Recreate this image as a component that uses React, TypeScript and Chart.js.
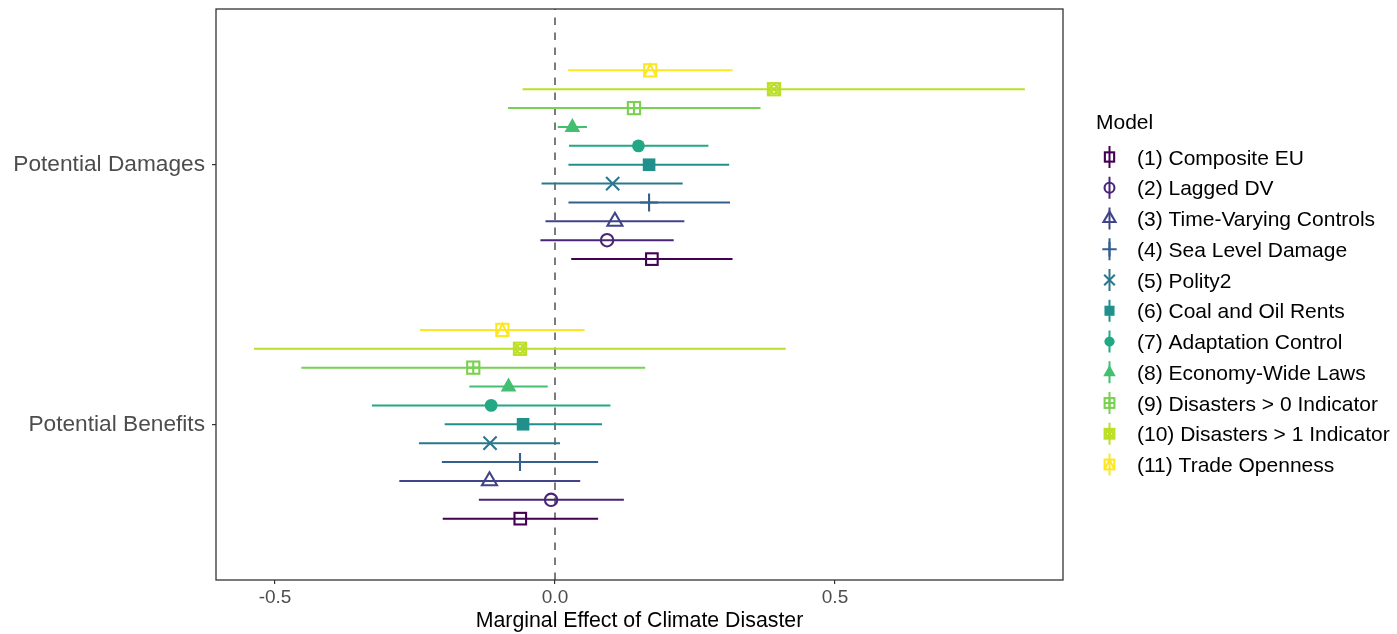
import React, { useEffect, useRef } from "react";
import { Chart, registerables } from "chart.js";

Chart.register(...registerables);

// ---------------- DATA ----------------
const categories = ["Potential Benefits", "Potential Damages"]; // y = 1, y = 2
const models = [
  "(1) Composite EU",
  "(2) Lagged DV",
  "(3) Time-Varying Controls",
  "(4) Sea Level Damage",
  "(5) Polity2",
  "(6) Coal and Oil Rents",
  "(7) Adaptation Control",
  "(8) Economy-Wide Laws",
  "(9) Disasters > 0 Indicator",
  "(10) Disasters > 1 Indicator",
  "(11) Trade Openness",
];
const colors = [
  "#440154", "#482576", "#414487", "#35608D", "#2A788E", "#21908C",
  "#22A884", "#43BF71", "#7AD151", "#BBDF27", "#FDE725",
];
const shapes = [
  "sqOpen", "circOpen", "triOpen", "plus", "cross", "sqFill",
  "circFill", "triFill", "sqPlus", "sqCross", "sqTri",
];

// Potential Damages
const dmgEst = [0.173, 0.093, 0.107, 0.168, 0.103, 0.168, 0.149, 0.031, 0.141, 0.391, 0.170];
const dmgLo = [0.029, -0.026, -0.017, 0.024, -0.024, 0.024, 0.025, 0.005, -0.084, -0.058, 0.023];
const dmgHi = [0.317, 0.212, 0.231, 0.3125, 0.228, 0.311, 0.274, 0.057, 0.367, 0.839, 0.317];

// Potential Benefits
const benEst = [-0.062, -0.007, -0.117, -0.0625, -0.116, -0.057, -0.114, -0.083, -0.146, -0.0625, -0.094];
const benLo = [-0.2005, -0.136, -0.278, -0.202, -0.243, -0.197, -0.327, -0.153, -0.453, -0.5375, -0.241];
const benHi = [0.077, 0.123, 0.045, 0.077, 0.009, 0.084, 0.099, -0.013, 0.161, 0.412, 0.053];

const xTicks = [-0.5, 0, 0.5];
const xTickLabels = ["-0.5", "0.0", "0.5"];
const yTicks = [1, 2];
const xTitle = "Marginal Effect of Climate Disaster";
const legendTitle = "Model";

// ---------------- LAYOUT / STYLE ----------------
const W = 1397;
const H = 634;
const FONT = '"Liberation Sans", Arial, Helvetica, sans-serif';
const DODGE = 0.8;
const X_MIN = (216 - 555) / 560;
const X_MAX = (1063 - 555) / 560;
const Y_MIN = 0.4;
const Y_MAX = 2.6;

function dodge(i: number) {
  const n = models.length;
  return (i - (n - 1) / 2) * (DODGE / n);
}

function drawShape(ctx: CanvasRenderingContext2D, shape: string, x: number, y: number, s: number, color: string) {
  ctx.save();
  ctx.strokeStyle = color;
  ctx.fillStyle = color;
  ctx.lineWidth = 2.1;
  ctx.lineJoin = "miter";
  ctx.beginPath();
  const sq = (h: number) => ctx.strokeRect(x - h * s, y - h * s, 2 * h * s, 2 * h * s);
  switch (shape) {
    case "sqOpen":
      sq(5.8);
      break;
    case "circOpen":
      ctx.arc(x, y, 6.2 * s, 0, Math.PI * 2);
      ctx.stroke();
      break;
    case "triOpen":
      ctx.moveTo(x, y - 8.6 * s);
      ctx.lineTo(x + 7.5 * s, y + 4.4 * s);
      ctx.lineTo(x - 7.5 * s, y + 4.4 * s);
      ctx.closePath();
      ctx.stroke();
      break;
    case "plus":
      ctx.moveTo(x - 9 * s, y);
      ctx.lineTo(x + 9 * s, y);
      ctx.moveTo(x, y - 9 * s);
      ctx.lineTo(x, y + 9 * s);
      ctx.stroke();
      break;
    case "cross":
      ctx.moveTo(x - 6.6 * s, y - 6.6 * s);
      ctx.lineTo(x + 6.6 * s, y + 6.6 * s);
      ctx.moveTo(x + 6.6 * s, y - 6.6 * s);
      ctx.lineTo(x - 6.6 * s, y + 6.6 * s);
      ctx.stroke();
      break;
    case "sqFill":
      ctx.fillRect(x - 6.3 * s, y - 6.3 * s, 12.6 * s, 12.6 * s);
      break;
    case "circFill":
      ctx.arc(x, y, 6.4 * s, 0, Math.PI * 2);
      ctx.fill();
      break;
    case "triFill":
      ctx.moveTo(x, y - 9 * s);
      ctx.lineTo(x + 7.8 * s, y + 4.9 * s);
      ctx.lineTo(x - 7.8 * s, y + 4.9 * s);
      ctx.closePath();
      ctx.fill();
      break;
    case "sqPlus":
      sq(6.1);
      ctx.moveTo(x - 6.1 * s, y);
      ctx.lineTo(x + 6.1 * s, y);
      ctx.moveTo(x, y - 6.1 * s);
      ctx.lineTo(x, y + 6.1 * s);
      ctx.stroke();
      break;
    case "sqCross":
      sq(6.1);
      ctx.moveTo(x - 6.1 * s, y - 6.1 * s);
      ctx.lineTo(x + 6.1 * s, y + 6.1 * s);
      ctx.moveTo(x + 6.1 * s, y - 6.1 * s);
      ctx.lineTo(x - 6.1 * s, y + 6.1 * s);
      ctx.stroke();
      ctx.beginPath();
      ctx.arc(x, y, 4.3 * s, 0, Math.PI * 2);
      ctx.stroke();
      break;
    case "sqTri":
      sq(6.1);
      ctx.moveTo(x - 6.1 * s, y + 6.1 * s);
      ctx.lineTo(x, y - 6.1 * s);
      ctx.lineTo(x + 6.1 * s, y + 6.1 * s);
      ctx.stroke();
      break;
  }
  ctx.restore();
}

export default function App() {
  const ref = useRef<HTMLCanvasElement>(null);

  useEffect(() => {
    const canvas = ref.current!;

    const lineSets = models.map((m, i) => ({
      type: "scatter" as const,
      label: m + " CI",
      data: [
        { x: dmgLo[i], y: 2 + dodge(i) },
        { x: dmgHi[i], y: 2 + dodge(i) },
        { x: 0, y: null },
        { x: benLo[i], y: 1 + dodge(i) },
        { x: benHi[i], y: 1 + dodge(i) },
      ],
      showLine: true,
      spanGaps: false,
      borderColor: colors[i],
      borderWidth: 2,
      pointRadius: 0,
      order: 2,
    }));

    const pointSets = models.map((m, i) => ({
      type: "scatter" as const,
      label: m,
      data: [
        { x: dmgEst[i], y: 2 + dodge(i) },
        { x: benEst[i], y: 1 + dodge(i) },
      ],
      pointRadius: 0,
      borderColor: colors[i],
      backgroundColor: colors[i],
      order: 1,
    }));

    const nLine = lineSets.length;

    const decor = {
      id: "decor",
      beforeDatasetsDraw(chart: any) {
        const { ctx, chartArea, scales } = chart;
        const x0 = scales.x.getPixelForValue(0);
        ctx.save();
        ctx.strokeStyle = "#5a5a5a";
        ctx.lineWidth = 1.6;
        ctx.setLineDash([7.5, 7.5]);
        ctx.beginPath();
        ctx.moveTo(x0, chartArea.bottom);
        ctx.lineTo(x0, chartArea.top);
        ctx.stroke();
        ctx.restore();
      },
      afterDatasetsDraw(chart: any) {
        const { ctx } = chart;
        // markers drawn at the positions the library computed for each point
        models.forEach((_, i) => {
          const meta = chart.getDatasetMeta(nLine + i);
          meta.data.forEach((el: any) => {
            drawShape(ctx, shapes[i], el.x, el.y, 1, colors[i]);
          });
        });
      },
      afterDraw(chart: any) {
        const { ctx, chartArea } = chart;
        ctx.save();
        // panel border
        ctx.strokeStyle = "#333333";
        ctx.lineWidth = 1.3;
        ctx.strokeRect(chartArea.left, chartArea.top, chartArea.right - chartArea.left, chartArea.bottom - chartArea.top);

        // legend
        ctx.fillStyle = "#000000";
        ctx.font = `21px ${FONT}`;
        ctx.textAlign = "left";
        ctx.textBaseline = "alphabetic";
        ctx.fillText(legendTitle, 1096, 129);
        const keyX = 1109.5;
        models.forEach((m, i) => {
          const y = 157 + i * 30.75;
          ctx.strokeStyle = colors[i];
          ctx.lineWidth = 2;
          ctx.beginPath();
          ctx.moveTo(keyX, y - 11);
          ctx.lineTo(keyX, y + 11);
          ctx.stroke();
          drawShape(ctx, shapes[i], keyX, y, 0.8, colors[i]);
          ctx.fillStyle = "#000000";
          ctx.fillText(m, 1137, y + 7.5);
        });
        ctx.restore();
      },
    };

    const chart = new Chart(canvas, {
      type: "scatter",
      data: { datasets: [...lineSets, ...pointSets] as any },
      options: {
        responsive: false,
        animation: false,
        events: [],
        layout: { padding: { left: 0, right: W - 1063, top: 9, bottom: 0 } },
        plugins: {
          legend: { display: false },
          tooltip: { enabled: false },
        },
        scales: {
          x: {
            type: "linear",
            min: X_MIN,
            max: X_MAX,
            afterBuildTicks: (axis: any) => {
              axis.ticks = xTicks.map((v) => ({ value: v }));
            },
            afterFit: (axis: any) => {
              axis.height = H - 580;
              axis.paddingLeft = 0;
              axis.paddingRight = 0;
            },
            ticks: {
              autoSkip: false,
              maxRotation: 0,
              padding: 2,
              color: "#4d4d4d",
              font: { family: FONT, size: 19 },
              callback: (v: any) => {
                const k = xTicks.findIndex((t) => Math.abs(t - Number(v)) < 1e-9);
                return k >= 0 ? xTickLabels[k] : "";
              },
            },
            grid: {
              drawOnChartArea: false,
              drawTicks: true,
              tickLength: 4,
              color: "#333333",
              lineWidth: 1.2,
            },
            border: { display: false },
            title: {
              display: true,
              text: xTitle,
              color: "#000000",
              font: { family: FONT, size: 21.3 },
              padding: { top: 0, bottom: 0 },
            },
          },
          y: {
            type: "linear",
            min: Y_MIN,
            max: Y_MAX,
            afterBuildTicks: (axis: any) => {
              axis.ticks = yTicks.map((v) => ({ value: v }));
            },
            afterFit: (axis: any) => {
              axis.width = 216;
              axis.paddingTop = 0;
              axis.paddingBottom = 0;
            },
            ticks: {
              autoSkip: false,
              padding: 7,
              color: "#4d4d4d",
              font: { family: FONT, size: 22.7 },
              callback: (v: any) => categories[Math.round(Number(v)) - 1] ?? "",
            },
            grid: {
              drawOnChartArea: false,
              drawTicks: true,
              tickLength: 4,
              color: "#333333",
              lineWidth: 1.2,
            },
            border: { display: false },
          },
        },
      },
      plugins: [decor],
    });

    return () => chart.destroy();
  }, []);

  return (
    <div style={{ position: "absolute", left: 0, top: 0, width: W, height: H, background: "#ffffff" }}>
      <canvas ref={ref} width={W} height={H} style={{ display: "block", width: W, height: H }} />
    </div>
  );
}
